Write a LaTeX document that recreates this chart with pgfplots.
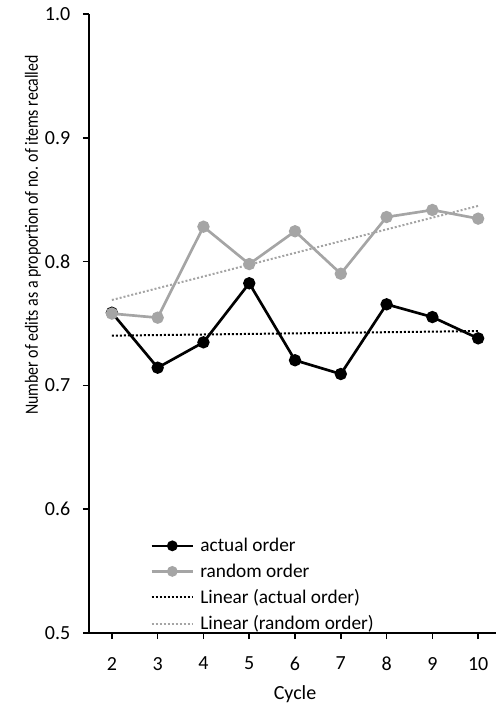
\documentclass[border=0pt]{standalone}
\usepackage{fontspec}
\setmainfont{Carlito}
\usepackage{pgfplots}
\pgfplotsset{compat=1.18}
\definecolor{mygray}{RGB}{165,165,165}
\begin{document}
\begin{tikzpicture}
\useasboundingbox (-66.75pt,-54.75pt) rectangle (305.25pt,474.75pt);
\begin{axis}[
  scale only axis,
  width=305.25pt, height=464.25pt,
  at={(0,0)}, anchor=south west,
  xmin=1.5, xmax=10.39,
  ymin=0.5, ymax=1.0,
  axis x line*=bottom, axis y line*=left,
  axis line style={line width=1.2pt, -},
  xtick={2,3,4,5,6,7,8,9,10},
  ytick={0.5,0.6,0.7,0.8,0.9,1.0},
  yticklabel style={/pgf/number format/fixed,/pgf/number format/fixed zerofill,/pgf/number format/precision=1},
  /pgf/number format/assume math mode=true,
  tick align=outside,
  major tick length=4.5pt,
  tick style={line width=1.2pt, black},
  ticklabel style={font=\fontsize{15}{18}\selectfont},
  xticklabel style={yshift=-10pt},
  yticklabel style={xshift=-6pt},
  xlabel={Cycle},
  ylabel={Number of edits as a proportion of no. of items recalled},
  xlabel style={font=\fontsize{15}{18}\selectfont, at={(axis cs:6,0.5)}, anchor=center, yshift=-45.75pt},
  ylabel style={font=\fontsize{14}{16}\selectfont, at={(axis description cs:-0.1377,0.643)}, anchor=center, xscale=0.85},
  legend style={draw=none, fill=none, at={(axis description cs:0.15,0.158)}, anchor=north west,
    font=\fontsize{14.5}{17}\selectfont, row sep=3.6pt, inner sep=0pt,
    /tikz/every odd column/.append style={column sep=2.5pt}},
  legend cell align=left,
  legend image code/.code={\draw[#1, mark size=3pt, mark repeat=2, mark phase=2] plot coordinates {(0pt,0pt) (15.5pt,0pt) (31pt,0pt)};},
  clip=false,
]
\addplot[black, line width=2pt, mark=*, mark size=3.6pt, mark options={solid}] coordinates {
 (2,0.7587) (3,0.7143) (4,0.7348) (5,0.7825) (6,0.7203) (7,0.7092) (8,0.7655) (9,0.7552) (10,0.7380)};
\addlegendentry{actual order}
\addplot[mygray, line width=2pt, mark=*, mark size=3.6pt, mark options={solid}] coordinates {
 (2,0.7580) (3,0.7547) (4,0.8282) (5,0.7980) (6,0.8245) (7,0.7902) (8,0.8360) (9,0.8417) (10,0.8347)};
\addlegendentry{random order}
\addplot[black, line width=1.5pt, dash pattern=on 1.5pt off 1.5pt] coordinates {(2,0.7402) (10,0.7439)};
\addlegendentry{Linear (actual order)}
\addplot[mygray, line width=1.5pt, dash pattern=on 1.5pt off 1.5pt] coordinates {(2,0.7690) (10,0.8450)};
\addlegendentry{Linear (random order)}
\end{axis}
\end{tikzpicture}
\end{document}
